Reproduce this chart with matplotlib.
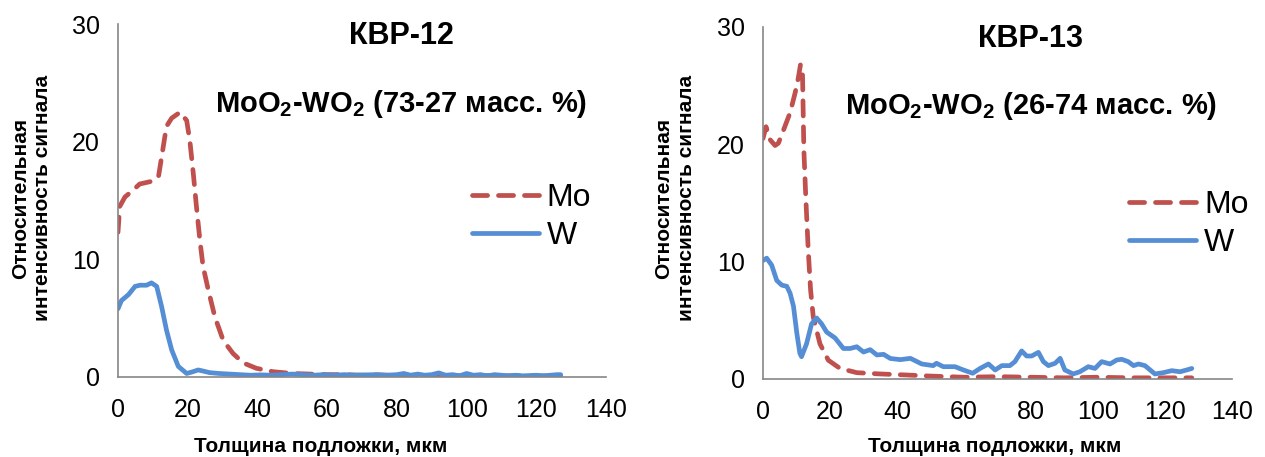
import matplotlib.pyplot as plt

plt.rcParams['font.family'] = ['Liberation Sans', 'DejaVu Sans']
plt.rcParams['mathtext.fontset'] = 'custom'
plt.rcParams['mathtext.bf'] = 'Liberation Sans:bold'
plt.rcParams['mathtext.rm'] = 'Liberation Sans'

# KBP-12: MoO2-WO2 (73-27)
x12_mo = [0, 0.5, 2, 4.4, 6.2, 9.2, 11.6, 13, 13.9, 15.4, 17.8, 19.7, 20.6, 21.6,
          22.5, 23.5, 24.4, 25.9, 27.8, 30.2, 33, 35.9, 39.7, 44.5, 50, 55, 60, 65,
          70, 75, 80, 85, 90, 95, 100, 105, 110, 115, 120, 125, 127]
y12_mo = [12.3, 14.5, 15.3, 15.9, 16.4, 16.6, 17.0, 19.6, 21.3, 22.0, 22.5, 21.8, 20.1, 17.3,
          14.5, 11.6, 9.4, 7.4, 5.1, 3.1, 2.0, 1.2, 0.74, 0.45, 0.3, 0.25, 0.2, 0.2,
          0.15, 0.18, 0.12, 0.15, 0.1, 0.12, 0.1, 0.12, 0.1, 0.1, 0.08, 0.1, 0.1]
x12_w = [0, 1, 3, 4.9, 6.3, 8.2, 9.6, 11.1, 12.5, 13.9, 15.4, 17.3, 19.7, 21.5, 23, 24.5,
         26.3, 29, 32, 35, 38, 41, 44, 47, 50, 53, 56, 59, 62, 65, 68, 71, 74, 77, 80,
         82, 84, 86, 88, 90, 92, 94, 96, 98, 100, 102, 104, 106, 108, 110, 112, 114,
         116, 118, 120, 122, 124, 126, 127]
y12_w = [5.8, 6.5, 7.0, 7.7, 7.8, 7.8, 8.0, 7.7, 6.0, 4.0, 2.3, 0.9, 0.3, 0.45, 0.6, 0.5,
         0.37, 0.3, 0.25, 0.2, 0.15, 0.18, 0.15, 0.2, 0.25, 0.2, 0.15, 0.2, 0.15, 0.2, 0.15,
         0.18, 0.2, 0.15, 0.2, 0.3, 0.15, 0.25, 0.15, 0.2, 0.35, 0.15, 0.2, 0.1, 0.3, 0.15,
         0.2, 0.1, 0.2, 0.15, 0.1, 0.15, 0.1, 0.12, 0.15, 0.1, 0.15, 0.2, 0.2]

# KBP-13: MoO2-WO2 (26-74)
x13_mo = [0, 0.9, 2.1, 3.6, 4.6, 6.1, 8.1, 9.6, 10.5, 11.2, 11.8, 12.2, 12.8, 13.5, 14.2,
          15, 17, 19.5, 23, 28, 35, 43, 50, 60, 70, 80, 90, 100, 110, 120, 128]
y13_mo = [20.5, 21.5, 20.4, 19.9, 20.1, 21.2, 22.7, 24.4, 25.6, 26.8, 25.9, 19.5, 15.3, 11.0, 7.6,
          5.3, 3.0, 1.6, 0.9, 0.54, 0.43, 0.34, 0.25, 0.15, 0.2, 0.15, 0.1, 0.15, 0.1, 0.1, 0.1]
x13_w = [0, 1.1, 2.6, 4.1, 5.6, 7.1, 8.1, 9.1, 10.1, 11, 11.5, 13, 14.5, 16, 17.5, 19, 21.5,
         24, 26, 28, 30, 32, 34, 36, 38, 41, 44, 47.4, 50.8, 51.8, 53.8, 57.3, 59.8, 62.6,
         64.8, 67.3, 69.3, 71.3, 73.7, 75.2, 77.2, 78.7, 80.2, 82.2, 83.7, 85.2, 87.2, 88.7,
         90.1, 92.6, 94.6, 97.1, 99.1, 101.1, 103.6, 105.6, 107.1, 109, 110.6, 112.1, 114,
         117, 119.5, 122, 124.5, 126.5, 128]
y13_w = [10.1, 10.3, 9.7, 8.4, 8.0, 7.9, 7.3, 6.2, 3.9, 2.2, 1.9, 3.0, 4.7, 5.2, 4.7, 4.0, 3.5,
         2.6, 2.6, 2.75, 2.3, 2.5, 2.05, 2.1, 1.75, 1.65, 1.76, 1.28, 1.14, 1.34, 1.05, 1.05, 0.77, 0.49,
         0.9, 1.28, 0.77, 1.14, 1.14, 1.48, 2.39, 1.96, 1.96, 2.27, 1.48, 1.14, 1.34, 1.76,
         0.77, 0.43, 0.62, 1.05, 0.9, 1.48, 1.28, 1.62, 1.68, 1.48, 1.14, 1.28, 1.14,
         0.43, 0.54, 0.71, 0.62, 0.77, 0.9]

titles = ['КВР-12', 'КВР-13']
subtitles = [r'MoO$_\mathbf{2}$-WO$_\mathbf{2}$ (73-27 масс. %)',
             r'MoO$_\mathbf{2}$-WO$_\mathbf{2}$ (26-74 масс. %)']
xticks = [0, 20, 40, 60, 80, 100, 120, 140]
yticks = [0, 10, 20, 30]
ylabel = 'Относительная\nинтенсивность сигнала'
xlabel = 'Толщина подложки, мкм'

mo_color = '#C0504D'
w_color = '#558ED5'

W, H = 1265, 457
fig = plt.figure(figsize=(W / 100, H / 100), dpi=100)

# axes boxes in pixels: left, top, right, bottom
boxes = [(118, 24, 606, 377), (763, 27, 1232, 379)]
data = [(x12_mo, y12_mo, x12_w, y12_w), (x13_mo, y13_mo, x13_w, y13_w)]
legend_pos = [(0.725, 0.453), (0.780, 0.439)]
title_x = [401, 1031]
title_y = [44, 47]
sub_y = [112, 114]
ylabel_x = [32, 675]
xlabel_x = [321, 995]

for i in range(2):
    l, t, r, b = boxes[i]
    ax = fig.add_axes([l / W, 1 - b / H, (r - l) / W, (b - t) / H])
    xm, ym, xw, yw = data[i]
    ax.plot(xm, ym, color=mo_color, lw=3.4, linestyle=(0, (3.2, 2.3)),
            dash_capstyle='round', dash_joinstyle='round', label='Mo')
    ax.plot(xw, yw, color=w_color, lw=3.4, solid_capstyle='round',
            solid_joinstyle='round', label='W')
    ax.set_xlim(0, 140)
    ax.set_ylim(0, 30)
    ax.set_xticks(xticks)
    ax.set_yticks(yticks)
    ax.tick_params(length=0, labelsize=18, pad=13)
    ax.tick_params(axis='x', pad=15)
    for s in ['top', 'right']:
        ax.spines[s].set_visible(False)
    for s in ['left', 'bottom']:
        ax.spines[s].set_color('#868686')
        ax.spines[s].set_linewidth(1.2)
    leg = ax.legend(loc='center left', bbox_to_anchor=legend_pos[i], frameon=False,
                    fontsize=23, handlelength=2.1, handletextpad=0.25,
                    labelspacing=0.25, borderpad=0, borderaxespad=0)

    fig.text(title_x[i] / W, 1 - title_y[i] / H, titles[i], ha='center', va='baseline',
             fontsize=22, fontweight='bold')
    fig.text(title_x[i] / W, 1 - sub_y[i] / H, subtitles[i], ha='center', va='baseline',
             fontsize=21, fontweight='bold')
    fig.text(ylabel_x[i] / W, 1 - 198 / H, ylabel, ha='center', va='center',
             rotation=90, fontsize=15, fontweight='bold', multialignment='center')
    fig.text(xlabel_x[i] / W, 1 - 447 / H, xlabel, ha='center', va='center',
             fontsize=15, fontweight='bold')

fig.savefig('out.png', dpi=100)
